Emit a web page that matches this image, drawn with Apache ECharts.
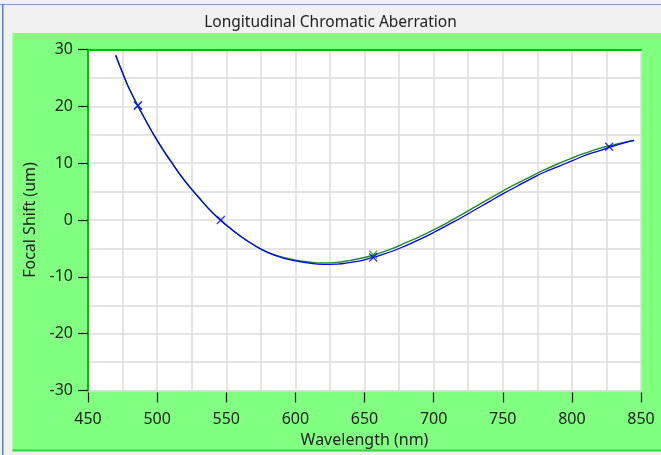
<!DOCTYPE html>
<html>
<head>
<meta charset="utf-8">
<script src="https://cdn.jsdelivr.net/npm/echarts@6/dist/echarts.min.js"></script>
<style>
  html, body { margin: 0; padding: 0; background: #f0f0f0; }
  #chart { width: 661px; height: 455px; }
</style>
</head>
<body>
<div id="chart"></div>
<script>
// wavelength samples (nm) and focal shift (um) for the two curves
const wavelengths = [470, 475, 480, 490, 500, 510, 520, 530, 540, 550, 560, 570, 580, 590, 600,
  610, 620, 630, 640, 650, 660, 670, 680, 690, 700, 710, 720, 730, 740, 750, 760, 770, 780, 790,
  800, 810, 820, 830, 840, 845];
const blueShift = [29.0, 25.9, 23.0, 18.3, 14.0, 10.3, 6.9, 4.0, 1.3, -0.9, -2.8, -4.4, -5.7, -6.6, -7.2,
  -7.6, -7.8, -7.75, -7.45, -7.0, -6.3, -5.5, -4.5, -3.4, -2.2, -0.9, 0.4, 1.8, 3.2, 4.6, 5.9, 7.2, 8.4, 9.4,
  10.4, 11.4, 12.2, 13.0, 13.7, 14.0];
const greenShift = [29.0, 25.9, 23.0, 18.3, 14.0, 10.3, 6.9, 4.0, 1.3, -0.9, -2.8, -4.4, -5.7, -6.5, -7.05,
  -7.4, -7.55, -7.45, -7.1, -6.6, -5.9, -5.05, -4.0, -2.9, -1.75, -0.45, 0.9, 2.3, 3.7, 5.1, 6.4, 7.6, 8.8, 9.9,
  10.9, 11.8, 12.6, 13.2, 13.8, 14.0];

// marked wavelengths
const blueMarkWl = [486.1, 546.1, 656.3, 827];
const blueMarkVal = [20.1, 0, -6.6, 12.9];
const greenMarkWl = [486.1, 656.3];
const greenMarkVal = [20.2, -6.1];

const BLUE = '#0000ff';
const GREEN = '#1e8c1e';
const crossPath = 'path://M0,0L10,10M10,0L0,10';

const pairs = (xs, ys) => xs.map((x, i) => [x, ys[i]]);

const chart = echarts.init(document.getElementById('chart'));

const gridLine = { show: true, lineStyle: { color: '#dcdcdc', width: 1.5 } };
const labelFont = { fontFamily: 'Noto Sans', fontSize: 16, color: '#222' };

chart.setOption({
  backgroundColor: '#f0f0f0',
  animation: false,
  graphic: [
    { type: 'rect', z: -10, shape: { x: 0, y: 4, width: 661, height: 1 }, style: { fill: '#7f9cc8' } },
    { type: 'rect', z: -10, shape: { x: 2, y: 4, width: 1.5, height: 451 }, style: { fill: '#5a7fc0' } },
    { type: 'rect', z: -10, shape: { x: 12.5, y: 33, width: 649, height: 418 }, style: { fill: '#80ff80' } },
    { type: 'rect', z: -9, shape: { x: 12.5, y: 449.5, width: 649, height: 2 }, style: { fill: '#3cd23c' } }
  ],
  title: {
    text: 'Longitudinal Chromatic Aberration',
    left: 'center',
    top: 10,
    textStyle: { fontFamily: 'Noto Sans', fontSize: 15.5, fontWeight: 'normal', color: '#222' }
  },
  grid: {
    left: 88, right: 20, top: 49.5, bottom: 64.5,
    show: true, backgroundColor: '#ffffff', borderWidth: 0
  },
  xAxis: [
    {
      type: 'value', min: 450, max: 850, interval: 50, offset: 2,
      name: 'Wavelength (nm)', nameLocation: 'middle', nameGap: 38,
      nameTextStyle: labelFont,
      axisLine: { show: false, onZero: false },
      axisTick: { show: true, length: 10, lineStyle: { color: '#111', width: 1.2 } },
      axisLabel: Object.assign({ margin: 19 }, labelFont),
      splitLine: gridLine,
      minorTick: { show: false, splitNumber: 2 },
      minorSplitLine: gridLine
    },
    {
      type: 'value', min: 450, max: 850, position: 'top',
      axisLine: { show: true, onZero: false, lineStyle: { color: '#00c000', width: 2 } },
      axisTick: { show: false }, axisLabel: { show: false }, splitLine: { show: false }
    }
  ],
  yAxis: {
    type: 'value', min: -30, max: 30, interval: 10,
    name: 'Focal Shift (um)', nameLocation: 'middle', nameGap: 48,
    nameTextStyle: labelFont,
    axisLine: { show: true, onZero: false, lineStyle: { color: '#00c000', width: 2 } },
    axisTick: { show: true, length: 10, lineStyle: { color: '#111', width: 1.2 } },
    axisLabel: Object.assign({ margin: 15 }, labelFont),
    splitLine: gridLine,
    minorTick: { show: false, splitNumber: 2 },
    minorSplitLine: gridLine
  },
  series: [
    {
      type: 'line', data: pairs(wavelengths, greenShift), smooth: true, symbol: 'none',
      lineStyle: { color: GREEN, width: 1.4 }, z: 3
    },
    {
      type: 'line', data: pairs(wavelengths, blueShift), smooth: true, symbol: 'none',
      lineStyle: { color: BLUE, width: 1.3 }, z: 4
    },
    {
      type: 'scatter', data: pairs(greenMarkWl, greenMarkVal), symbol: crossPath, symbolSize: 8,
      itemStyle: { color: 'none', borderColor: GREEN, borderWidth: 1.3 }, z: 5
    },
    {
      type: 'scatter', data: pairs(blueMarkWl, blueMarkVal), symbol: crossPath, symbolSize: 8,
      itemStyle: { color: 'none', borderColor: BLUE, borderWidth: 1.3 }, z: 6
    }
  ]
});
</script>
</body>
</html>
